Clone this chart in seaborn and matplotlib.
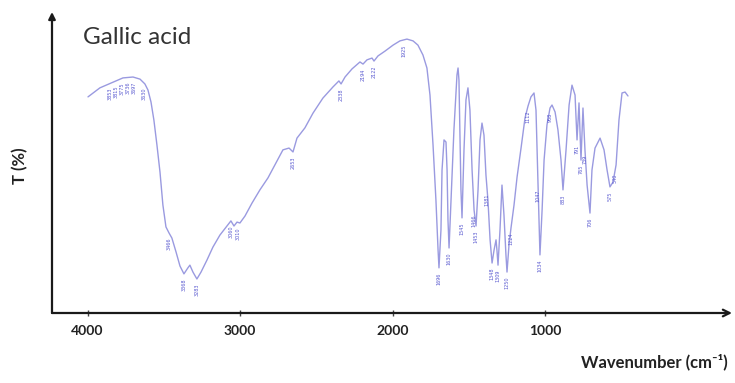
import numpy as np
import pandas as pd
import matplotlib
matplotlib.use("Agg")
import matplotlib.pyplot as plt
import seaborn as sns

# FTIR spectrum of gallic acid: wavenumber (cm-1) and transmittance (relative %)
wavenumber = [
    3997, 3919, 3833, 3768, 3702, 3656, 3624, 3604, 3584, 3565,
    3545, 3525, 3506, 3486, 3466, 3447, 3420, 3394, 3368, 3342,
    3329, 3309, 3283, 3256, 3217, 3178, 3132, 3086, 3060, 3040,
    3020, 3001, 2968, 2922, 2870, 2817, 2765, 2719, 2679, 2653,
    2627, 2575, 2522, 2457, 2391, 2352, 2338, 2312, 2266, 2214,
    2194, 2168, 2135, 2122, 2096, 2050, 1997, 1952, 1906, 1866,
    1834, 1801, 1775, 1755, 1735, 1716, 1702, 1696, 1683, 1676,
    1663, 1650, 1643, 1637, 1630, 1617, 1598, 1578, 1571, 1565,
    1558, 1552, 1545, 1532, 1519, 1506, 1493, 1479, 1466, 1453,
    1440, 1427, 1414, 1401, 1388, 1375, 1361, 1348, 1335, 1322,
    1316, 1309, 1296, 1283, 1270, 1257, 1250, 1237, 1224, 1204,
    1184, 1158, 1132, 1112, 1093, 1073, 1060, 1053, 1047, 1040,
    1034, 1020, 1007, 988, 968, 955, 935, 916, 896, 883,
    863, 843, 824, 804, 791, 778, 765, 752, 739, 725,
    706, 693, 673, 640, 614, 594, 575, 555, 535, 516,
    496, 476, 457,
]
transmittance = [
    71.8, 74.8, 76.7, 78.1, 78.4, 77.7, 76.1, 74.1, 70.1, 64.1,
    55.8, 46.8, 35.9, 28.6, 26.6, 24.9, 20.3, 15.6, 13.0, 15.0,
    15.9, 13.6, 11.3, 13.6, 17.6, 21.9, 25.9, 28.9, 30.6, 28.9,
    30.2, 29.9, 32.2, 36.5, 40.9, 44.9, 49.8, 54.2, 54.8, 53.5,
    58.1, 61.5, 66.4, 71.4, 75.1, 77.1, 76.1, 78.4, 81.1, 83.4,
    82.7, 84.1, 84.7, 83.7, 85.4, 87.0, 89.0, 90.4, 91.0, 90.4,
    89.0, 85.7, 81.4, 72.4, 55.8, 37.5, 20.9, 15.0, 27.6, 47.5,
    57.5, 56.8, 47.5, 30.9, 21.6, 37.5, 60.8, 79.1, 81.4, 77.4,
    57.5, 40.9, 31.6, 54.2, 70.8, 74.8, 67.4, 47.5, 34.2, 28.9,
    40.9, 57.5, 63.1, 59.1, 45.8, 37.5, 24.3, 16.6, 20.9, 24.3,
    20.9, 15.9, 27.6, 42.5, 32.6, 19.3, 13.6, 22.6, 28.2, 35.9,
    45.2, 54.8, 64.8, 68.8, 71.8, 73.1, 67.4, 54.2, 42.5, 30.9,
    19.3, 34.2, 50.8, 62.5, 68.1, 69.1, 66.8, 60.8, 50.8, 40.9,
    54.2, 69.1, 75.7, 72.4, 57.5, 69.8, 50.8, 68.1, 54.2, 42.5,
    33.2, 47.5, 54.8, 58.1, 54.2, 47.5, 41.9, 43.5, 49.2, 64.1,
    73.1, 73.4, 72.1,
]

# Band positions annotated under the trace
band_labels = [
    3853, 3815, 3775, 3736, 3697, 3630, 3466, 3368, 3283, 3060,
    3010, 2653, 2338, 2194, 2122, 1925, 1696, 1630, 1545, 1466,
    1453, 1381, 1348, 1309, 1250, 1224, 1112, 1047, 1034, 968,
    883, 791, 765, 739, 706, 575, 540,
]

x_ticks = [4000, 3000, 2000, 1000]

sns.set_theme(style="white")
plt.rcParams["font.family"] = ["Lato", "DejaVu Sans"]

fig = plt.figure(figsize=(7.35, 3.83), dpi=100)
ax = fig.add_axes([52 / 735, 1 - 313 / 383, 680 / 735, 301 / 383])

df = pd.DataFrame({"Wavenumber": wavenumber, "T": transmittance})
sns.lineplot(data=df, x="Wavenumber", y="T", sort=False, estimator=None,
             color="#9a9ae0", linewidth=1.0, ax=ax)

w_sorted = np.array(wavenumber[::-1], dtype=float)
t_sorted = np.array(transmittance[::-1], dtype=float)
for band in band_labels:
    t_here = np.interp(band, w_sorted, t_sorted)
    ax.text(band, t_here - 1.5, str(band), rotation=90, ha="center", va="top",
            fontsize=3.5, color="#5a5ad0", family=["DejaVu Sans"])

ax.set_xlim(4233, -225)
ax.set_ylim(0, 100)
for side in ax.spines.values():
    side.set_visible(False)

# axis lines drawn as arrows
ax.annotate("", xy=(1.0, 0), xytext=(0, 0), xycoords="axes fraction",
            arrowprops=dict(arrowstyle="->", color="#1a1a1a", lw=1.6,
                            shrinkA=0, shrinkB=0, mutation_scale=12))
ax.annotate("", xy=(0, 1.0), xytext=(0, 0), xycoords="axes fraction",
            arrowprops=dict(arrowstyle="-|>", color="#1a1a1a", lw=1.6,
                            shrinkA=0, shrinkB=0, mutation_scale=10))

ax.set_xticks(x_ticks)
ax.set_xticklabels([str(v) for v in x_ticks], fontsize=10, fontweight="bold",
                   color="#222222")
ax.set_yticks([])
ax.tick_params(axis="x", direction="inout", length=5, width=1, color="#444444",
               pad=6, bottom=True)
ax.set_xlabel("")
ax.set_ylabel("")

fig.text(20 / 735, 1 - 166 / 383, "T (%)", rotation=90, ha="center", va="center",
         fontsize=12, fontweight="bold", color="#222222")
fig.text(728 / 735, 1 - 362 / 383, "Wavenumber (cm\u207b\u00b9)", ha="right",
         va="center", fontsize=12, fontweight="bold", color="#222222")
fig.text(83 / 735, 1 - 38 / 383, "Gallic acid", ha="left", va="center",
         fontsize=17.5, color="#333333")

fig.savefig("out.png", dpi=100)
